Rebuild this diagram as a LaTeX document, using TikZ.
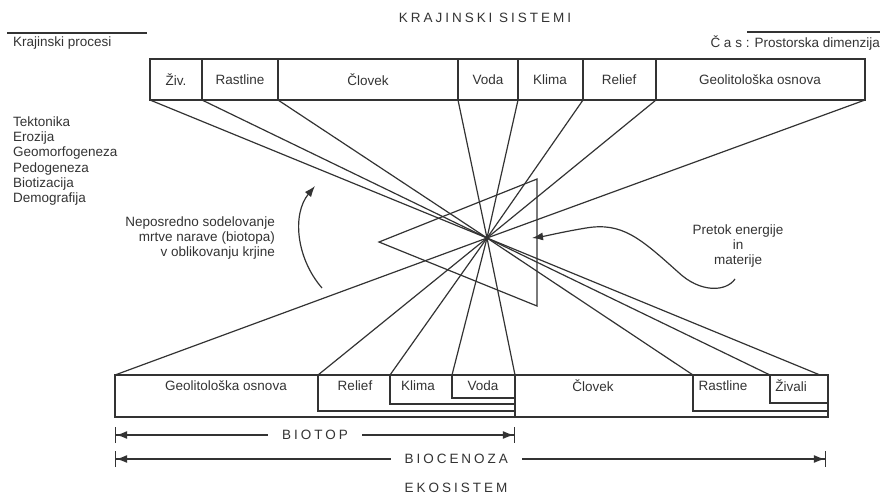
\documentclass[tikz,border=0pt]{standalone}
\usepackage{fontspec}
\setmainfont{Liberation Sans}
\newfontfamily\spacedfont[LetterSpace=22]{Liberation Sans}
\usetikzlibrary{arrows.meta}

\tikzset{
  ray/.style={black!80, line width=1.2pt},
  boxline/.style={black!80, line width=1.4pt},
  cell/.style={inner sep=0pt},
  spaced/.style={font=\fontsize{13.5}{15}\selectfont\spacedfont},
  span/.style={black!80, line width=1.2pt,
    {Bar[width=16pt]Latex[length=11pt,width=8pt]}-{Latex[length=11pt,width=8pt]Bar[width=16pt]}},
  spanlabel/.style={spaced, fill=white, inner xsep=14pt},
  flow/.style={black!80, line width=1.2pt, -{Latex[length=11pt,width=8pt]}}
}

\begin{document}
\begin{tikzpicture}[x=1pt, y=-1pt, font=\fontsize{13.5}{15.2}\selectfont, text=black!80]
  \useasboundingbox (0,0) rectangle (882,496);

  % Titles and side notes
  \node[spaced] (title) at (485,18) {KRAJINSKI SISTEMI};
  \node[cell, anchor=west] (procesi) at (13,43) {Krajinski procesi};
  \node[cell, anchor=east] (cas) at (880,43) {Č a s : Prostorska dimenzija};
  \draw[boxline] (7,33) -- (147,33);
  \draw[boxline] (747,32) -- (880,32);
  \node[cell, anchor=west, align=left] (seznam) at (13,161)
    {Tektonika\\Erozija\\Geomorfogeneza\\Pedogeneza\\Biotizacija\\Demografija};

  % Points of the top box
  \coordinate (t1) at (150,100);
  \coordinate (t2) at (202,100);
  \coordinate (t3) at (278,100);
  \coordinate (t4) at (458,100);
  \coordinate (t5) at (518,100);
  \coordinate (t6) at (583,100);
  \coordinate (t7) at (656,100);
  \coordinate (t8) at (865,100);

  % Points of the bottom box
  \coordinate (b1) at (820,375);
  \coordinate (b2) at (770,375);
  \coordinate (b3) at (693,375);
  \coordinate (b4) at (515,375);
  \coordinate (b5) at (452,375);
  \coordinate (b6) at (390,375);
  \coordinate (b7) at (318,375);
  \coordinate (b8) at (115,375);

  \coordinate (c) at (487,238);

  % Top box
  \draw[boxline] (150,59) rectangle (t8);
  \draw[boxline] (t2) -- ++(0,-41);
  \draw[boxline] (t3) -- ++(0,-41);
  \draw[boxline] (t4) -- ++(0,-41);
  \draw[boxline] (t5) -- ++(0,-41);
  \draw[boxline] (t6) -- ++(0,-41);
  \draw[boxline] (t7) -- ++(0,-41);
  \node[cell] (zivT) at (176,80) {Živ.};
  \node[cell] (rastT) at (240,80) {Rastline};
  \node[cell] (clovT) at (368,80) {Človek};
  \node[cell] (vodaT) at (488,80) {Voda};
  \node[cell] (klimaT) at (550,80) {Klima};
  \node[cell] (reliefT) at (619,80) {Relief};
  \node[cell] (geoT) at (760,80) {Geolitološka osnova};

  % Bottom box
  \draw[boxline] (b8) rectangle (828,417);
  \draw[boxline] (b7) -- (318,411) -- (515,411);
  \draw[boxline] (b6) -- (390,404) -- (515,404);
  \draw[boxline] (b5) -- (452,398) -- (515,398);
  \draw[boxline] (b4) -- (515,417);
  \draw[boxline] (b3) -- (693,411) -- (828,411);
  \draw[boxline] (b2) -- (770,403) -- (828,403);
  \node[cell] (geoB) at (226,386) {Geolitološka osnova};
  \node[cell] (reliefB) at (355,386) {Relief};
  \node[cell] (klimaB) at (418,386) {Klima};
  \node[cell] (vodaB) at (483,386) {Voda};
  \node[cell] (clovB) at (593,386) {Človek};
  \node[cell] (rastB) at (723,386) {Rastline};
  \node[cell] (zivB) at (791,386) {Živali};

  % Rays through the centre
  \draw[ray] (t1) -- (c) -- (b1);
  \draw[ray] (t2) -- (c) -- (b2);
  \draw[ray] (t3) -- (c) -- (b3);
  \draw[ray] (t4) -- (c) -- (b4);
  \draw[ray] (t5) -- (c) -- (b5);
  \draw[ray] (t6) -- (c) -- (b6);
  \draw[ray] (t7) -- (c) -- (b7);
  \draw[ray] (t8) -- (c) -- (b8);

  % Triangle
  \coordinate (tri1) at (379,242);
  \coordinate (tri2) at (537,179);
  \coordinate (tri3) at (537,306);
  \draw[ray] (tri1) -- (tri2) -- (tri3) -- cycle;

  % Left curved arrow and its note
  \coordinate (levoS) at (322,288);
  \coordinate (levoE) at (315,186);
  \draw[flow] (levoS) .. controls (296,258) and (292,214) .. (levoE);
  \node[cell, anchor=east, align=right] (neposredno) at (275,238)
    {Neposredno sodelovanje\\mrtve narave (biotopa)\\v oblikovanju krjine};

  % Right wavy arrow and its note
  \coordinate (desnoS) at (735,279);
  \coordinate (desnoE) at (532,238);
  \draw[flow] (desnoS) .. controls (726,292) and (700,293) .. (678,272)
    .. controls (640,238) and (622,222) .. (586,228)
    .. controls (562,232) and (546,236) .. (desnoE);
  \node[cell, align=center] (pretok) at (738,246) {Pretok energije\\in\\materije};

  % Spans below
  \coordinate (spanL1) at (115,435);
  \coordinate (spanR1) at (515,435);
  \draw[span] (spanL1) -- node[spanlabel] (biotop) {BIOTOP} (spanR1);
  \coordinate (spanL2) at (115,459);
  \coordinate (spanR2) at (826,459);
  \draw[span] (spanL2) -- node[spanlabel, pos=0.48] (biocenoza) {BIOCENOZA} (spanR2);
  \node[spaced] (ekosistem) at (456,488) {EKOSISTEM};
\end{tikzpicture}
\end{document}
